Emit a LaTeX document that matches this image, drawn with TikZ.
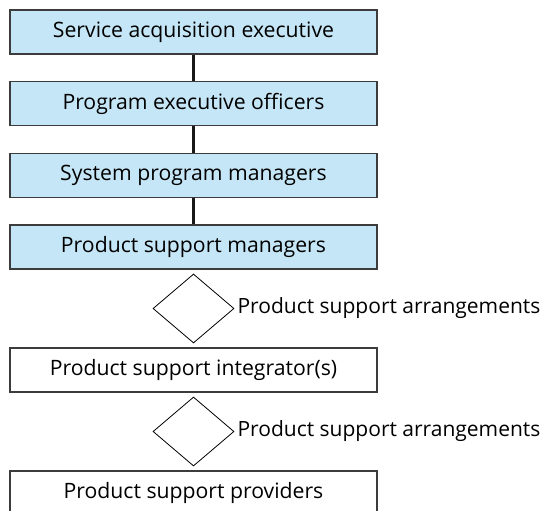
\documentclass[tikz,border=0pt]{standalone}
\usepackage{fontspec}
\setmainfont{Open Sans}
\usetikzlibrary{shapes.geometric}
\definecolor{boxblue}{RGB}{197,230,246}
\definecolor{rim}{RGB}{60,60,60}

\begin{document}
\begin{tikzpicture}[x=1pt,y=-1pt]
  \tikzset{level/.style = {shape=rectangle,draw=rim,line width=1.2pt,fill=boxblue,minimum width=367pt,minimum height=44pt,inner sep=0pt,font=\fontsize{21.2}{24}\selectfont}}
  \tikzset{plainlevel/.style = {level,fill=white}}
  \tikzset{deal/.style = {shape=diamond,draw,line width=0.8pt,minimum width=81pt,minimum height=69pt,inner sep=0pt}}
  \tikzset{link/.style = {line width=3pt,black!90}}
  \useasboundingbox (0,0) rectangle (550,511);
	\node[level](sae) at (193.5,32) {Service acquisition executive};
	\node[level](peo) at (193.5,103.5) {Program executive officers};
	\node[level](spm) at (193.5,175.5) {System program managers};
	\node[level](psm) at (193.5,247) {Product support managers};

	\node[deal][label={[font=\fontsize{21}{24}\selectfont,inner sep=3pt]right:Product support arrangements}] (arr1) at (193.5,308.5) {};
	\node[plainlevel](psi) at (193.5,370) {Product support integrator(s)};

	\node[deal][label={[font=\fontsize{21}{24}\selectfont,inner sep=3pt]right:Product support arrangements}] (arr2) at (193.5,431.5) {};
	\node[plainlevel](psp) at (193.5,493) {Product support providers};

    \foreach \from/\to in {sae/peo,peo/spm,spm/psm}
    \draw[link] (\from) -- (\to);
\end{tikzpicture}
\end{document}
